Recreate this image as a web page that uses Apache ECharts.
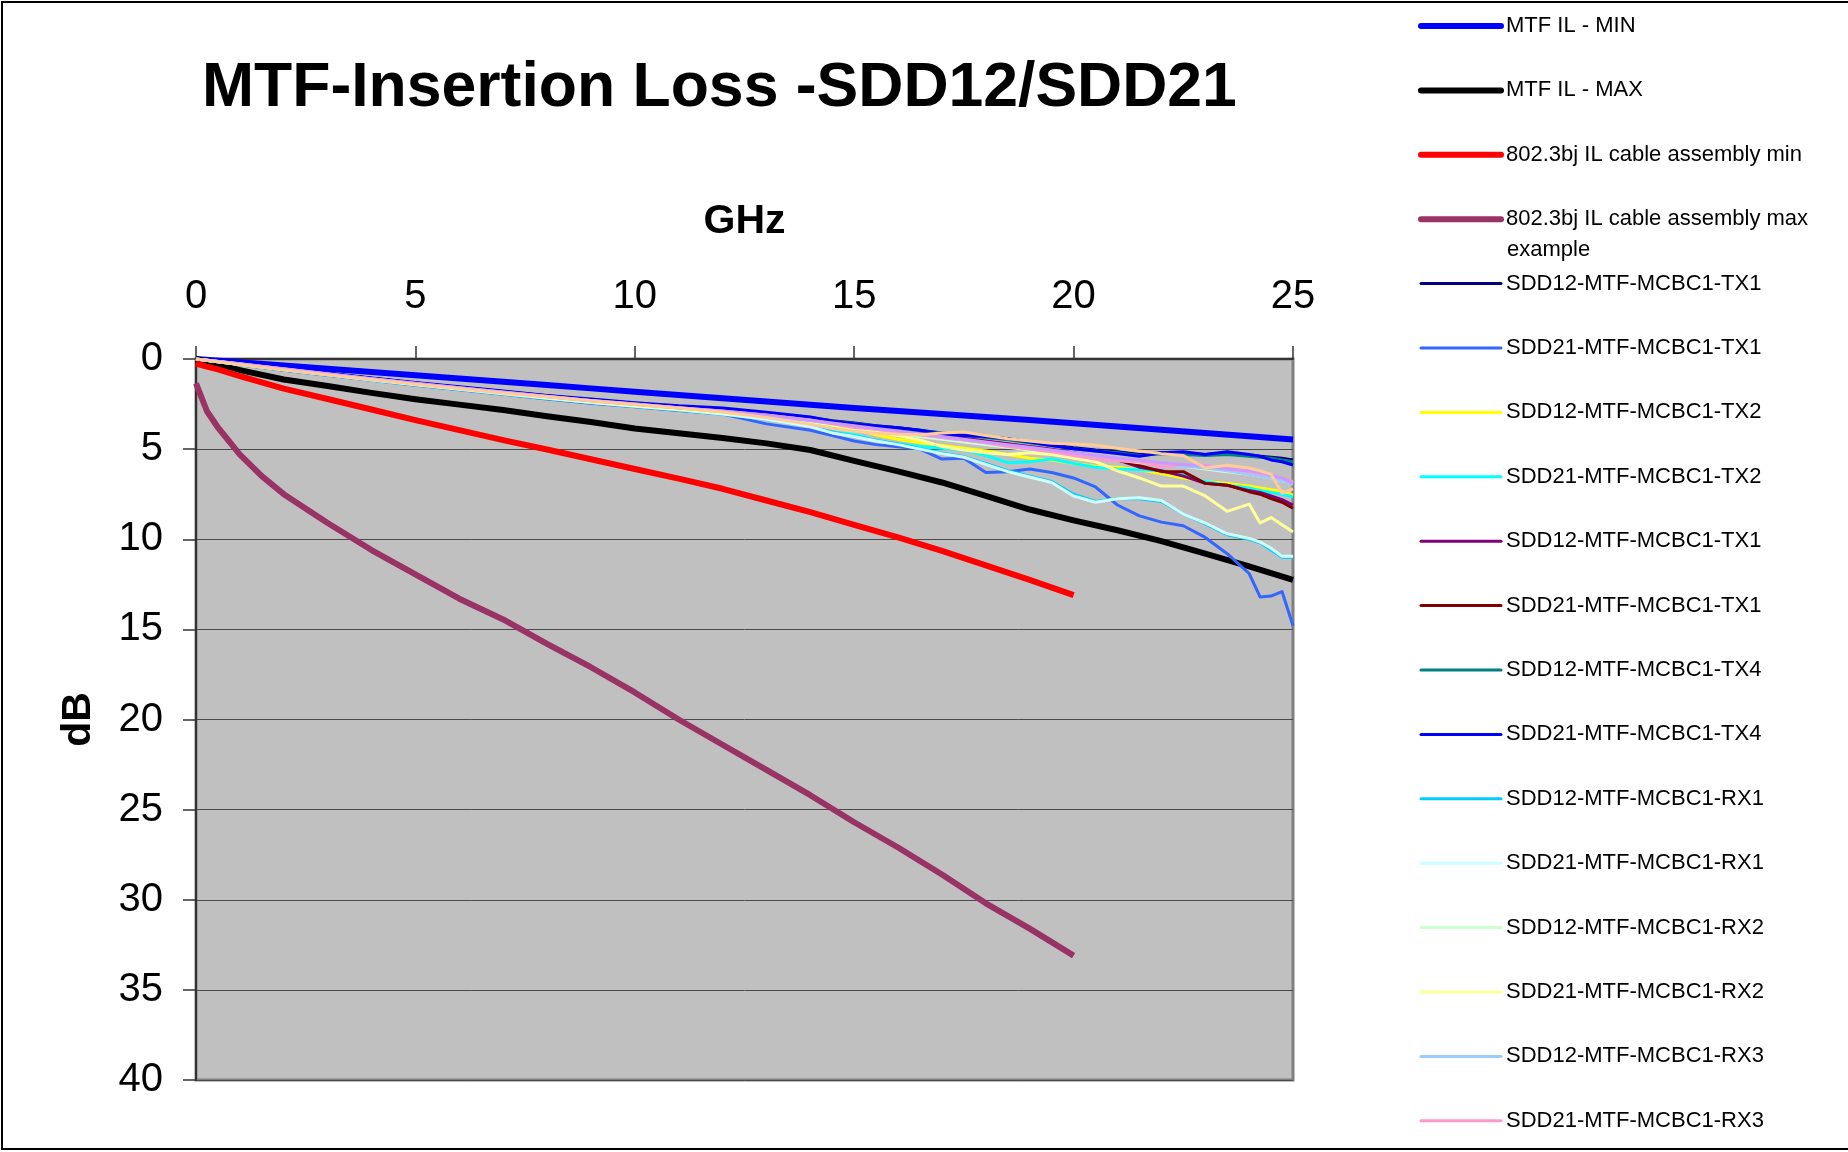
<!DOCTYPE html>
<html>
<head>
<meta charset="utf-8">
<title>MTF-Insertion Loss -SDD12/SDD21</title>
<script src="https://cdn.jsdelivr.net/npm/echarts@6/dist/echarts.min.js"></script>
<style>
  html, body { margin: 0; padding: 0; background: #fff; }
  #chart { width: 1848px; height: 1152px; }
</style>
</head>
<body>
<div id="chart"></div>
<script>
// frequency grids (GHz)
const freqLimit = [0, 1, 2, 3, 4, 5, 6, 7, 8, 9, 10, 11, 12, 13, 14, 15, 16, 17, 18, 19, 20, 21, 22, 23, 24, 25];
const freqSpec = [0, 0.25, 0.5, 1, 1.5, 2, 3, 4, 5, 6, 7, 8, 9, 10, 11, 12, 13, 14, 15, 16, 17, 18, 19, 20];
const freqMeas = [0, 1, 2, 3, 4, 5, 6, 7, 8, 9, 10, 11, 12, 13, 14,
  14.5, 15, 15.5, 16, 16.5, 17, 17.5, 18, 18.5, 19, 19.5, 20, 20.5, 21, 21.5, 22, 22.5, 23, 23.5, 24,
  24.25, 24.5, 24.75, 25];

const yTicks = [0, 5, 10, 15, 20, 25, 30, 35, 40];
const xTicks = [0, 5, 10, 15, 20, 25];

// limit lines (dB)
const mtfMin = [0, 0.18, 0.36, 0.54, 0.72, 0.9, 1.08, 1.26, 1.44, 1.63, 1.82, 2.0, 2.18, 2.36, 2.54, 2.72, 2.88, 3.05, 3.22, 3.39, 3.56, 3.74, 3.92, 4.1, 4.28, 4.46];
const mtfMax = [0, 0.62, 1.14, 1.5, 1.88, 2.23, 2.53, 2.83, 3.18, 3.5, 3.86, 4.12, 4.38, 4.68, 5.05, 5.65, 6.23, 6.85, 7.6, 8.35, 8.95, 9.5, 10.1, 10.8, 11.5, 12.25];
const specMin = [0.25, 0.42, 0.58, 0.95, 1.3, 1.64, 2.22, 2.8, 3.39, 3.95, 4.5, 5.02, 5.56, 6.1, 6.64, 7.2, 7.85, 8.5, 9.2, 9.9, 10.65, 11.45, 12.25, 13.1];
const specMaxExample = [1.35, 2.9, 3.8, 5.3, 6.5, 7.5, 9.1, 10.6, 11.95, 13.3, 14.45, 15.8, 17.1, 18.5, 20.0, 21.4, 22.8, 24.2, 25.7, 27.1, 28.6, 30.2, 31.6, 33.1];

// measured channels (dB)
const sdd12Tx1 = [0, 0.24, 0.52, 0.8, 1.07, 1.33, 1.57, 1.8, 2.04, 2.26, 2.46, 2.65, 2.82, 3.02, 3.25,
  3.42, 3.55, 3.7, 3.82, 3.95, 4.1, 4.22, 4.3, 4.42, 4.6, 4.75, 4.92, 5.05, 5.15, 5.3, 5.2, 5.25, 5.3, 5.2, 5.35,
  5.4, 5.45, 5.5, 5.6];
const sdd21Tx1 = [0, 0.32, 0.62, 0.9, 1.18, 1.45, 1.7, 1.96, 2.22, 2.45, 2.65, 2.86, 3.05, 3.6, 3.95,
  4.25, 4.55, 4.75, 4.87, 5.0, 5.55, 5.5, 6.3, 6.25, 6.1, 6.3, 6.6, 7.1, 8.1, 8.7, 9.05, 9.25, 9.9, 10.8, 11.9,
  13.2, 13.15, 12.9, 14.8];
const sdd12Tx2 = [0, 0.3, 0.6, 0.88, 1.15, 1.42, 1.67, 1.92, 2.17, 2.4, 2.6, 2.8, 3.0, 3.25, 3.5,
  3.7, 3.9, 4.2, 4.45, 4.65, 4.8, 4.95, 5.1, 5.3, 5.5, 5.6, 5.8, 5.95, 6.0, 6.15, 6.35, 6.6, 6.8, 6.9, 7.05,
  7.15, 7.25, 7.35, 7.55];
const sdd21Tx2 = [0, 0.3, 0.6, 0.88, 1.16, 1.42, 1.68, 1.93, 2.18, 2.4, 2.62, 2.82, 3.03, 3.3, 3.6,
  3.85, 4.15, 4.55, 4.7, 4.85, 4.95, 5.05, 5.35, 5.75, 5.7, 5.55, 5.8, 6.0, 6.1, 6.15, 6.2, 6.45, 6.8, 7.0, 7.15,
  7.3, 7.4, 7.5, 7.65];
const sdd12Tx1b = [0, 0.27, 0.55, 0.82, 1.1, 1.35, 1.6, 1.84, 2.08, 2.3, 2.5, 2.7, 2.9, 3.12, 3.38,
  3.52, 3.65, 3.8, 3.95, 4.1, 4.25, 4.4, 4.55, 4.7, 4.85, 5.0, 5.2, 5.4, 5.6, 6.0, 6.2, 6.5, 6.9, 7.0, 7.3,
  7.4, 7.6, 7.8, 8.1];
const sdd21Tx1b = [0, 0.27, 0.55, 0.83, 1.1, 1.36, 1.6, 1.85, 2.1, 2.32, 2.52, 2.72, 2.92, 3.15, 3.4,
  3.55, 3.7, 3.85, 4.0, 4.15, 4.3, 4.45, 4.6, 4.75, 4.9, 5.05, 5.25, 5.45, 5.6, 5.9, 6.25, 6.25, 6.9, 7.0, 7.36,
  7.5, 7.75, 7.95, 8.28];
const sdd12Tx4 = [0, 0.25, 0.53, 0.81, 1.08, 1.34, 1.58, 1.82, 2.06, 2.28, 2.48, 2.67, 2.85, 3.06, 3.3,
  3.45, 3.58, 3.72, 3.85, 3.98, 4.12, 4.25, 4.35, 4.48, 4.65, 4.82, 4.98, 5.1, 5.2, 5.35, 5.25, 5.3, 5.35, 5.3, 5.4,
  5.45, 5.5, 5.6, 5.7];
const sdd21Tx4 = [0, 0.23, 0.5, 0.78, 1.05, 1.3, 1.54, 1.78, 2.02, 2.22, 2.42, 2.6, 2.72, 2.95, 3.22,
  3.45, 3.6, 3.72, 3.82, 3.95, 4.18, 4.25, 4.3, 4.42, 4.6, 4.8, 4.98, 5.1, 5.25, 5.4, 5.2, 5.15, 5.3, 5.15, 5.3,
  5.4, 5.6, 5.7, 5.88];
const sdd12Rx1 = [0, 0.3, 0.6, 0.89, 1.17, 1.44, 1.69, 1.94, 2.19, 2.42, 2.63, 2.84, 3.06, 3.35, 3.72,
  4.05, 4.28, 4.5, 4.72, 4.98, 5.22, 5.42, 5.8, 6.2, 6.5, 6.8, 7.5, 7.9, 7.75, 7.75, 7.9, 8.6, 9.15, 9.75, 10.0,
  10.2, 10.6, 11.0, 11.0];
const sdd21Rx1 = [0, 0.3, 0.6, 0.88, 1.16, 1.43, 1.68, 1.93, 2.18, 2.42, 2.62, 2.82, 3.05, 3.35, 3.75,
  4.1, 4.3, 4.55, 4.75, 5.0, 5.25, 5.45, 5.85, 6.25, 6.55, 6.85, 7.6, 7.95, 7.75, 7.7, 7.85, 8.6, 9.1, 9.7, 9.95,
  10.15, 10.5, 10.95, 10.95];
const sdd12Rx2 = [0, 0.28, 0.57, 0.85, 1.12, 1.38, 1.63, 1.88, 2.12, 2.35, 2.55, 2.75, 2.95, 3.2, 3.45,
  3.6, 3.75, 3.95, 4.15, 4.3, 4.45, 4.6, 4.75, 4.9, 5.05, 5.2, 5.35, 5.5, 5.6, 5.75, 5.85, 5.95, 6.1, 6.25, 6.4,
  6.5, 6.6, 6.75, 6.9];
const sdd21Rx2 = [0, 0.29, 0.58, 0.86, 1.13, 1.4, 1.65, 1.9, 2.14, 2.37, 2.58, 2.78, 2.98, 3.22, 3.48,
  3.65, 3.85, 4.05, 4.25, 4.5, 4.85, 5.05, 5.2, 5.3, 5.2, 5.3, 5.5, 5.7, 6.2, 6.6, 7.05, 7.05, 7.6, 8.45, 8.05,
  9.1, 8.8, 9.2, 9.6];
const sdd12Rx3 = [0, 0.28, 0.56, 0.84, 1.11, 1.37, 1.62, 1.86, 2.1, 2.33, 2.53, 2.72, 2.92, 3.15, 3.42,
  3.58, 3.75, 3.9, 4.05, 4.2, 4.35, 4.5, 4.65, 4.82, 5.0, 5.12, 5.25, 5.4, 5.55, 5.7, 5.85, 5.95, 6.05, 6.2, 6.4,
  6.5, 6.6, 6.75, 6.95];
const sdd21Rx3 = [0, 0.26, 0.54, 0.82, 1.09, 1.35, 1.59, 1.83, 2.07, 2.3, 2.5, 2.7, 2.88, 3.1, 3.38,
  3.6, 3.8, 3.9, 4.05, 4.2, 4.35, 4.5, 4.65, 4.85, 5.0, 5.15, 5.35, 5.55, 5.65, 5.7, 5.95, 5.85, 5.9, 6.1, 6.25,
  6.35, 6.45, 6.6, 6.8];
// two more traces drawn in the plot but cut from the legend
const sdd12Rx4 = [0, 0.27, 0.55, 0.83, 1.1, 1.36, 1.6, 1.84, 2.08, 2.3, 2.5, 2.7, 2.9, 3.12, 3.4,
  3.55, 3.7, 3.85, 4.0, 4.15, 4.3, 4.45, 4.6, 4.75, 4.9, 5.05, 5.2, 5.35, 5.5, 5.6, 5.75, 5.85, 5.95, 6.1, 6.2,
  6.3, 6.45, 6.6, 6.9];
const sdd21Rx4 = [0, 0.3, 0.6, 0.88, 1.14, 1.4, 1.64, 1.88, 2.1, 2.32, 2.52, 2.72, 2.94, 3.25, 3.62,
  3.85, 4.02, 4.12, 4.18, 4.2, 4.1, 4.05, 4.25, 4.42, 4.55, 4.68, 4.72, 4.78, 4.95, 5.1, 5.25, 5.35, 6.05, 5.9, 6.05,
  6.2, 6.4, 7.45, 7.2];

const FONT = '"Liberation Sans", Arial, sans-serif';
const WRAP_NAME = '802.3bj IL cable assembly max example';
const LEGEND_LEFT = 1418;
const LEGEND_TOP = 14;
const LEGEND_STEP = 64.4;

function pairs(xs, ys) {
  return ys.map((y, i) => [xs[i], y]);
}

// name#n keeps duplicate legend labels apart
const traces = [
  { name: 'MTF IL - MIN', color: '#0000FF', width: 6, freq: freqLimit, values: mtfMin },
  { name: 'MTF IL - MAX', color: '#000000', width: 6, freq: freqLimit, values: mtfMax },
  { name: '802.3bj IL cable assembly min', color: '#FF0000', width: 6, freq: freqSpec, values: specMin },
  { name: WRAP_NAME, color: '#993366', width: 6, freq: freqSpec, values: specMaxExample },
  { name: 'SDD12-MTF-MCBC1-TX1', color: '#000080', width: 3, freq: freqMeas, values: sdd12Tx1 },
  { name: 'SDD21-MTF-MCBC1-TX1', color: '#3366FF', width: 3, freq: freqMeas, values: sdd21Tx1 },
  { name: 'SDD12-MTF-MCBC1-TX2', color: '#FFFF00', width: 3, freq: freqMeas, values: sdd12Tx2 },
  { name: 'SDD21-MTF-MCBC1-TX2', color: '#00FFFF', width: 3, freq: freqMeas, values: sdd21Tx2 },
  { name: 'SDD12-MTF-MCBC1-TX1#2', color: '#800080', width: 3, freq: freqMeas, values: sdd12Tx1b },
  { name: 'SDD21-MTF-MCBC1-TX1#2', color: '#800000', width: 3, freq: freqMeas, values: sdd21Tx1b },
  { name: 'SDD12-MTF-MCBC1-TX4', color: '#008080', width: 3, freq: freqMeas, values: sdd12Tx4 },
  { name: 'SDD21-MTF-MCBC1-TX4', color: '#0000FF', width: 3, freq: freqMeas, values: sdd21Tx4 },
  { name: 'SDD12-MTF-MCBC1-RX1', color: '#00CCFF', width: 3, freq: freqMeas, values: sdd12Rx1 },
  { name: 'SDD21-MTF-MCBC1-RX1', color: '#CCFFFF', width: 3, freq: freqMeas, values: sdd21Rx1 },
  { name: 'SDD12-MTF-MCBC1-RX2', color: '#CCFFCC', width: 3, freq: freqMeas, values: sdd12Rx2 },
  { name: 'SDD21-MTF-MCBC1-RX2', color: '#FFFF99', width: 3, freq: freqMeas, values: sdd21Rx2 },
  { name: 'SDD12-MTF-MCBC1-RX3', color: '#99CCFF', width: 3, freq: freqMeas, values: sdd12Rx3 },
  { name: 'SDD21-MTF-MCBC1-RX3', color: '#FF99CC', width: 3, freq: freqMeas, values: sdd21Rx3 },
  { name: 'SDD12-MTF-MCBC1-RX4', color: '#CC99FF', width: 3, freq: freqMeas, values: sdd12Rx4, hidden: true },
  { name: 'SDD21-MTF-MCBC1-RX4', color: '#FFCC99', width: 3, freq: freqMeas, values: sdd21Rx4, hidden: true }
];

const shown = traces.filter(t => !t.hidden).map(t => t.name);
const wrapIndex = shown.indexOf(WRAP_NAME);

const chart = echarts.init(document.getElementById('chart'), null, { renderer: 'canvas' });

chart.setOption({
  animation: false,
  backgroundColor: '#ffffff',
  textStyle: { fontFamily: FONT },
  title: {
    text: 'MTF-Insertion Loss -SDD12/SDD21',
    left: 202,
    top: 57,
    padding: 0,
    textStyle: { fontSize: 62.5, fontWeight: 'bold', color: '#000', fontFamily: FONT, lineHeight: 64 }
  },
  graphic: [{
    type: 'rect',
    silent: true,
    shape: { x: 2, y: 2, width: 1880, height: 1147 },
    style: { fill: 'none', stroke: '#000', lineWidth: 2 }
  }, {
    // second line of the wrapped legend label
    type: 'text',
    silent: true,
    x: LEGEND_LEFT + 89,
    y: LEGEND_TOP + 12 + wrapIndex * LEGEND_STEP + 31,
    style: { text: 'example', fontSize: 22, fontFamily: FONT, fill: '#000', verticalAlign: 'middle' }
  }],
  legend: {
    orient: 'vertical',
    left: LEGEND_LEFT,
    top: LEGEND_TOP,
    height: 1130,
    padding: 0,
    itemWidth: 80,
    itemHeight: 24,
    itemGap: LEGEND_STEP - 24,
    selectedMode: false,
    data: shown,
    formatter: name => name === WRAP_NAME ? '802.3bj IL cable assembly max' : name.split('#')[0],
    itemStyle: { opacity: 0 },
    lineStyle: { width: 'inherit', cap: 'round' },
    textStyle: { fontSize: 22, color: '#000', fontFamily: FONT, lineHeight: 24 }
  },
  grid: {
    left: 196, top: 359, width: 1097, height: 721,
    show: true,
    backgroundColor: '#C0C0C0',
    borderColor: '#808080',
    borderWidth: 3
  },
  xAxis: {
    type: 'value',
    position: 'top',
    min: xTicks[0],
    max: xTicks[xTicks.length - 1],
    interval: 5,
    name: 'GHz',
    nameLocation: 'middle',
    nameGap: 117,
    nameTextStyle: { fontSize: 41, fontWeight: 'bold', color: '#000', fontFamily: FONT },
    axisLine: { show: true, onZero: false, lineStyle: { color: '#333', width: 2 } },
    axisTick: { show: true, inside: false, length: 13, lineStyle: { color: '#333', width: 1.5 } },
    axisLabel: { fontSize: 40, color: '#000', margin: 42, fontFamily: FONT },
    splitLine: { show: false }
  },
  yAxis: {
    type: 'value',
    inverse: true,
    min: yTicks[0],
    max: yTicks[yTicks.length - 1],
    interval: 5,
    name: 'dB',
    nameLocation: 'middle',
    nameGap: 97,
    nameTextStyle: { fontSize: 41, fontWeight: 'bold', color: '#000', fontFamily: FONT },
    axisLine: { show: true, onZero: false, lineStyle: { color: '#333', width: 2 } },
    axisTick: { show: true, inside: false, length: 13, lineStyle: { color: '#333', width: 1.5 } },
    axisLabel: { fontSize: 40, color: '#000', margin: 33, fontFamily: FONT },
    splitLine: { show: true, lineStyle: { color: '#4a4a4a', width: 1 } }
  },
  series: traces.map(t => ({
    type: 'line',
    name: t.name,
    data: pairs(t.freq, t.values),
    showSymbol: false,
    symbol: 'none',
    color: t.color,
    lineStyle: { color: t.color, width: t.width, join: 'round' },
    emphasis: { disabled: true }
  }))
});
</script>
</body>
</html>
